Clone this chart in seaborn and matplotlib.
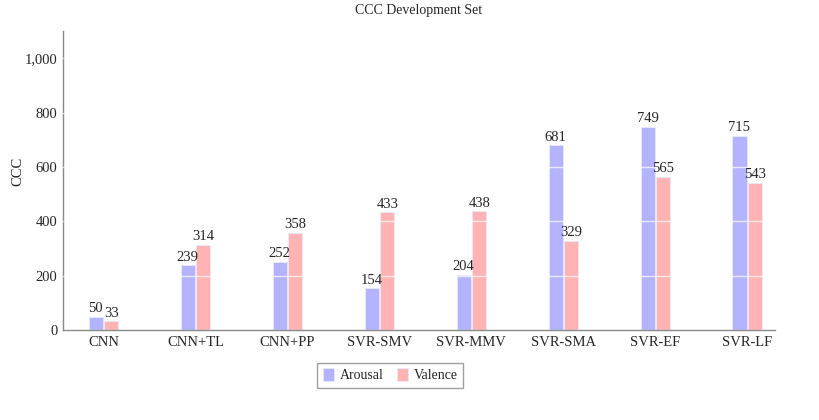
import pandas as pd
import matplotlib
matplotlib.use("Agg")
import matplotlib.pyplot as plt
import matplotlib.ticker as mtick
import seaborn as sns

models = ['CNN', 'CNN+TL', 'CNN+PP', 'SVR-SMV', 'SVR-MMV', 'SVR-SMA', 'SVR-EF', 'SVR-LF']
arousal = [50, 239, 252, 154, 204, 681, 749, 715]
valence = [33, 314, 358, 433, 438, 329, 565, 543]

df = pd.DataFrame({
    'Model': models * 2,
    'CCC': arousal + valence,
    'Dimension': ['Arousal'] * len(models) + ['Valence'] * len(models),
})

sns.set_style('white')
plt.rcParams['font.family'] = ['Liberation Serif', 'DejaVu Serif']

fig = plt.figure(figsize=(8.2, 4.2), dpi=100)
ax = fig.add_axes([0.077, 0.214, 0.868, 0.712])

sns.barplot(data=df, x='Model', y='CCC', hue='Dimension',
            palette={'Arousal': '#b3b3ff', 'Valence': '#ffb3b3'},
            saturation=1, width=0.34, gap=0.1, edgecolor='#e8e8ff',
            linewidth=0.6, ax=ax, legend=True)

for c in ax.containers:
    ax.bar_label(c, fmt='%d', padding=1, fontsize=10.5)

ax.set_ylim(0, 1100)
ax.set_xlim(-0.44, 7.3)
ax.set_yticks([0, 200, 400, 600, 800, 1000])
ax.yaxis.set_major_formatter(mtick.StrMethodFormatter('{x:,.0f}'))
ax.grid(axis='y', color='white', linewidth=1, alpha=0.7)
ax.set_axisbelow(False)
ax.tick_params(axis='both', length=0, labelsize=10.5, pad=4)
ax.set_xlabel('')
ax.set_ylabel('CCC', fontsize=10.5)
ax.yaxis.set_label_coords(-0.055, 0.53)
ax.set_title('CCC Development Set', fontsize=10, pad=12)

sns.despine(ax=ax)
for s in ['left', 'bottom']:
    ax.spines[s].set_color('#888888')
    ax.spines[s].set_linewidth(1)

ax.legend(loc='center', bbox_to_anchor=(0.476, 0.107),
          bbox_transform=fig.transFigure, ncol=2, fontsize=10,
          frameon=True, fancybox=False, edgecolor='#888888',
          handlelength=0.8, handleheight=1.0, columnspacing=1.0,
          handletextpad=0.4, borderpad=0.4)

fig.savefig('out.png', dpi=100)
